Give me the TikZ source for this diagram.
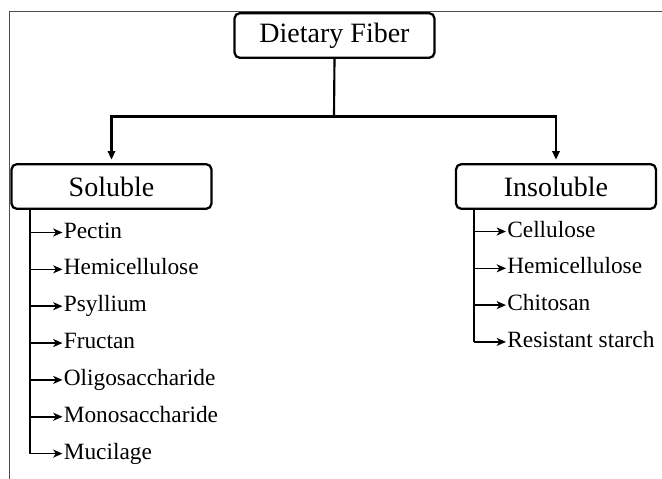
\documentclass[tikz,border=0pt]{standalone}
\usepackage{fontspec}
\setmainfont{Liberation Serif}
\usetikzlibrary{arrows.meta}
\tikzset{
  box/.style={draw,line width=1.7pt,rounded corners=4pt,minimum width=150pt,minimum height=33.5pt,font=\fontsize{21}{24}\selectfont},
  item/.style={anchor=west,inner xsep=0.8pt,inner ysep=0pt,text height=0.84em,text depth=0pt,font=\fontsize{17.5}{20}\selectfont},
  link/.style={line width=1.6pt,-{Triangle[length=6.5pt,width=5.5pt]},shorten >=2.5pt},
  trunk/.style={line width=2pt},
  twig/.style={line width=1.2pt,-{Stealth[length=7pt,width=6pt,inset=2pt]}}
}
\begin{document}
\begin{tikzpicture}[x=0.75pt,y=-0.75pt]
\useasboundingbox (0,0) rectangle (662,479);
% frame
\draw[black!70,line width=0.8pt] (9.5,479) -- (9.5,11.5) -- (662,11.5);

\node[box] (fiber) at (334.5,35.5) {Dietary Fiber};
\node[box] (sol) at (111.5,186.5) {Soluble};
\node[box] (insol) at (556,186.5) {Insoluble};

\coordinate (split) at (334,116.5);
\draw[line width=1.6pt] (fiber.south) -- (split);
\draw[link] (split) -| (sol.north);
\draw[link] (split) -| (insol.north);

% soluble list
\foreach \name [count=\i] in {Pectin,Hemicellulose,Psyllium,Fructan,Oligosaccharide,Monosaccharide,Mucilage}{
  \coordinate (s\i) at (30,232.5+36.85*\i-36.85);
  \node[item] (st\i) at (62.5,232.5+36.85*\i-36.85) {\name};
  \draw[twig] (s\i) -- (st\i);
}
\draw[trunk] (sol.south -| s1) -- (s7);

% insoluble list
\foreach \name [count=\i] in {Cellulose,Hemicellulose,Chitosan,Resistant starch}{
  \coordinate (i\i) at (474,231.5+36.8*\i-36.8);
  \node[item] (it\i) at (506,231.5+36.8*\i-36.8) {\name};
  \draw[twig] (i\i) -- (it\i);
}
\draw[trunk] (insol.south -| i1) -- (i4);
\end{tikzpicture}
\end{document}
